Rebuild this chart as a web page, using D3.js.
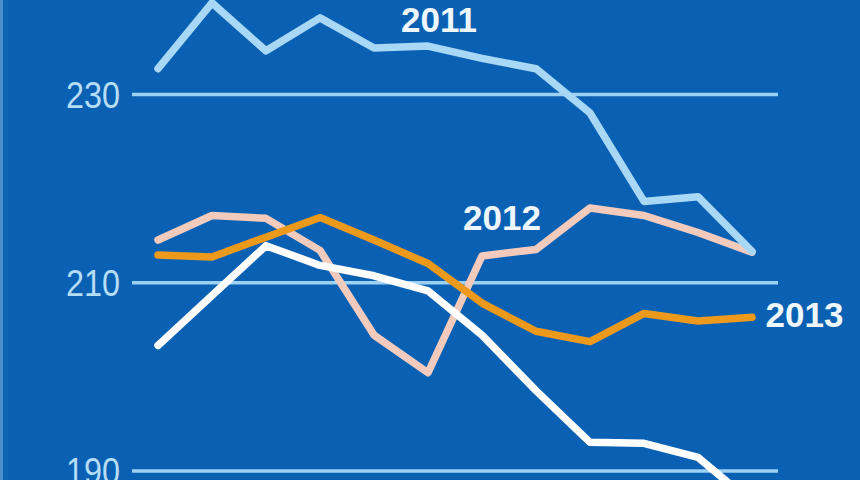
<!DOCTYPE html>
<html>
<head>
<meta charset="utf-8">
<script src="https://cdn.jsdelivr.net/npm/d3@7"></script>
<style>
  html, body { margin: 0; padding: 0; background: #0a61b3; }
  svg { display: block; }
</style>
</head>
<body>
<svg id="chart" width="860" height="480"></svg>
<script>
// ---- data ----
const months = [1, 2, 3, 4, 5, 6, 7, 8, 9, 10, 11, 12];
const series2011 = [232.7, 239.7, 234.6, 238.1, 234.9, 235.1, 233.8, 232.7, 228.0, 218.6, 219.1, 213.3];
const series2012 = [214.5, 217.1, 216.8, 213.4, 204.4, 200.4, 212.8, 213.5, 217.9, 217.1, 215.3, 213.2];
const series2013 = [212.9, 212.7, 214.8, 216.9, 214.5, 212.0, 207.8, 204.8, 203.7, 206.7, 205.9, 206.3];
const series2014 = [203.3, 208.6, 213.9, 211.8, 210.7, 209.1, 204.4, 198.5, 193.0, 192.9, 191.4, 186.6];
const yTicks = [190, 210, 230];

// ---- layout ----
const W = 860, H = 480;
const svg = d3.select("#chart");

svg.append("rect").attr("x", 0).attr("y", 0).attr("width", W).attr("height", H).attr("fill", "#0a61b3");
svg.append("rect").attr("x", 0).attr("y", 0).attr("width", 3).attr("height", H).attr("fill", "#4a8ecb");
svg.append("rect").attr("x", 3).attr("y", 0).attr("width", 5).attr("height", H).attr("fill", "#0f66b3");

const x = d3.scaleLinear().domain([1, 12]).range([158, 752]);
const y = d3.scaleLinear().domain([189, 240]).range([480, 0]);

// gridlines + tick labels via axis
const yAxis = d3.axisLeft(y).tickValues(yTicks).tickSize(0).tickFormat(d3.format("d"));
const gAxis = svg.append("g").attr("transform", "translate(132,0)").call(yAxis);
gAxis.select(".domain").remove();
gAxis.selectAll(".tick line").attr("x1", 0).attr("x2", 778 - 132)
  .attr("stroke", "#9dd1f4").attr("stroke-width", 3.5);
gAxis.selectAll(".tick text")
  .attr("fill", "#b6ddf6")
  .attr("font-family", "'Liberation Sans', Arial, sans-serif")
  .attr("font-size", 36)
  .attr("x", -12)
  .attr("dy", "0.36em")
  .attr("textLength", 54)
  .attr("lengthAdjust", "spacingAndGlyphs");

// lines
const line = d3.line().x((d, i) => x(months[i])).y(d => y(d)).curve(d3.curveLinear);

const drawOrder = [
  { data: series2012, color: "#f3cbbd" },
  { data: series2014, color: "#ffffff" },
  { data: series2013, color: "#ec991c" },
  { data: series2011, color: "#a9d7f6" }
];

svg.selectAll("path.series")
  .data(drawOrder)
  .enter().append("path")
  .attr("class", "series")
  .attr("d", d => line(d.data))
  .attr("fill", "none")
  .attr("stroke", d => d.color)
  .attr("stroke-width", 7.5)
  .attr("stroke-linejoin", "round")
  .attr("stroke-linecap", "round");

// series labels
const labels = [
  { text: "2011", mx: 5.5, v: 236.6 },
  { text: "2012", mx: 6.65, v: 215.6 },
  { text: "2013", mx: 12.25, v: 205.3 }
];
svg.selectAll("text.lbl")
  .data(labels)
  .enter().append("text")
  .attr("class", "lbl")
  .attr("x", d => x(d.mx))
  .attr("y", d => y(d.v))
  .attr("fill", "#eef7fd")
  .attr("font-family", "'Liberation Sans', Arial, sans-serif")
  .attr("font-weight", "bold")
  .attr("font-size", 35)
  .text(d => d.text);
</script>
</body>
</html>
